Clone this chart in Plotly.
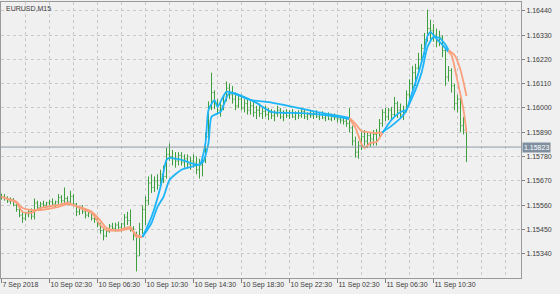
import plotly.graph_objects as go

# ---------------- data ----------------
symbol_title = "EURUSD,M15"

tick_labels = ["7 Sep 2018", "10 Sep 02:30", "10 Sep 06:30", "10 Sep 10:30", "10 Sep 14:30",
               "10 Sep 18:30", "10 Sep 22:30", "11 Sep 02:30", "11 Sep 06:30", "11 Sep 10:30"]
tick_bars = [0, 16, 32, 48, 64, 80, 96, 112, 128, 144]

price_ticks = [1.15340, 1.15450, 1.15560, 1.15670, 1.15780, 1.15890,
               1.16000, 1.16110, 1.16220, 1.16330, 1.16440]

opens = [1.15600, 1.15595, 1.15590, 1.15578, 1.15585, 1.15560, 1.15540, 1.15515, 1.15500, 1.15520,
         1.15530, 1.15510, 1.15570, 1.15550, 1.15565, 1.15560, 1.15570, 1.15575, 1.15565, 1.15575,
         1.15595, 1.15580, 1.15590, 1.15575, 1.15600, 1.15565, 1.15530, 1.15545, 1.15530, 1.15515,
         1.15525, 1.15500, 1.15495, 1.15470, 1.15445, 1.15420, 1.15440, 1.15465, 1.15455, 1.15470,
         1.15460, 1.15475, 1.15505, 1.15490, 1.15455, 1.15420, 1.15330, 1.15450, 1.15540, 1.15580,
         1.15660, 1.15640, 1.15670, 1.15650, 1.15700, 1.15690, 1.15790, 1.15780, 1.15770, 1.15760,
         1.15785, 1.15755, 1.15770, 1.15745, 1.15760, 1.15750, 1.15720, 1.15740, 1.15760, 1.15870,
         1.16000, 1.16070, 1.16020, 1.15990, 1.16010, 1.16050, 1.16090, 1.16060, 1.16040, 1.16010,
         1.16040, 1.16000, 1.16020, 1.15990, 1.16010, 1.15980, 1.15990, 1.15975, 1.15985, 1.15970,
         1.15980, 1.15965, 1.15975, 1.15990, 1.15960, 1.15975, 1.15965, 1.15980, 1.15960, 1.15975,
         1.15965, 1.15985, 1.15960, 1.15970, 1.15965, 1.15975, 1.15960, 1.15970, 1.15955, 1.15965,
         1.15950, 1.15960, 1.15955, 1.15950, 1.15945, 1.15940, 1.15930, 1.15910, 1.15850, 1.15800,
         1.15830, 1.15870, 1.15850, 1.15875, 1.15860, 1.15880, 1.15890, 1.15930, 1.15980, 1.15960,
         1.15990, 1.15970, 1.16020, 1.15990, 1.15970, 1.15990, 1.16060, 1.16110, 1.16160, 1.16180,
         1.16220, 1.16270, 1.16310, 1.16360, 1.16350, 1.16330, 1.16300, 1.16320, 1.16260, 1.16140,
         1.16170, 1.16100, 1.16020, 1.16040, 1.15920, 1.15900]
highs = [1.15612, 1.15610, 1.15600, 1.15595, 1.15592, 1.15570, 1.15550, 1.15535, 1.15530, 1.15540,
         1.15545, 1.15590, 1.15580, 1.15575, 1.15580, 1.15575, 1.15585, 1.15590, 1.15580, 1.15610,
         1.15605, 1.15640, 1.15600, 1.15625, 1.15610, 1.15570, 1.15555, 1.15560, 1.15545, 1.15540,
         1.15535, 1.15520, 1.15510, 1.15480, 1.15460, 1.15450, 1.15475, 1.15480, 1.15480, 1.15485,
         1.15480, 1.15520, 1.15530, 1.15540, 1.15465, 1.15440, 1.15480, 1.15560, 1.15600, 1.15690,
         1.15700, 1.15690, 1.15700, 1.15720, 1.15740, 1.15820, 1.15840, 1.15810, 1.15800, 1.15800,
         1.15800, 1.15790, 1.15790, 1.15780, 1.15790, 1.15780, 1.15770, 1.15780, 1.15890, 1.16030,
         1.16160, 1.16080, 1.16040, 1.16030, 1.16060, 1.16120, 1.16110, 1.16100, 1.16070, 1.16060,
         1.16060, 1.16040, 1.16040, 1.16030, 1.16030, 1.16010, 1.16020, 1.16000, 1.16010, 1.16000,
         1.15995, 1.15990, 1.16010, 1.16000, 1.15990, 1.15995, 1.15990, 1.15995, 1.15985, 1.15990,
         1.16000, 1.15995, 1.15980, 1.15990, 1.15985, 1.15990, 1.15980, 1.15985, 1.15975, 1.15980,
         1.15975, 1.15975, 1.15970, 1.15965, 1.15960, 1.15955, 1.16000, 1.15920, 1.15870, 1.15850,
         1.15890, 1.15900, 1.15890, 1.15890, 1.15900, 1.15905, 1.15950, 1.15995, 1.16000, 1.16000,
         1.16005, 1.16050, 1.16030, 1.16020, 1.16010, 1.16080, 1.16130, 1.16190, 1.16200, 1.16250,
         1.16290, 1.16340, 1.16445, 1.16400, 1.16380, 1.16360, 1.16350, 1.16330, 1.16270, 1.16190,
         1.16180, 1.16110, 1.16060, 1.16050, 1.15960, 1.15905]
lows = [1.15585, 1.15580, 1.15570, 1.15565, 1.15555, 1.15530, 1.15505, 1.15480, 1.15490, 1.15505,
        1.15495, 1.15495, 1.15535, 1.15540, 1.15550, 1.15545, 1.15555, 1.15560, 1.15550, 1.15560,
        1.15570, 1.15565, 1.15565, 1.15570, 1.15555, 1.15510, 1.15515, 1.15520, 1.15500, 1.15505,
        1.15490, 1.15480, 1.15460, 1.15430, 1.15400, 1.15415, 1.15435, 1.15445, 1.15440, 1.15450,
        1.15440, 1.15455, 1.15470, 1.15440, 1.15400, 1.15260, 1.15330, 1.15430, 1.15470, 1.15560,
        1.15615, 1.15620, 1.15630, 1.15640, 1.15660, 1.15680, 1.15760, 1.15740, 1.15730, 1.15740,
        1.15740, 1.15730, 1.15725, 1.15720, 1.15730, 1.15700, 1.15680, 1.15690, 1.15750, 1.15850,
        1.15990, 1.15995, 1.15970, 1.15960, 1.15990, 1.16030, 1.16040, 1.16020, 1.15990, 1.16000,
        1.15990, 1.15980, 1.15970, 1.15970, 1.15960, 1.15950, 1.15960, 1.15950, 1.15960, 1.15945,
        1.15950, 1.15940, 1.15960, 1.15950, 1.15940, 1.15955, 1.15950, 1.15955, 1.15945, 1.15950,
        1.15955, 1.15950, 1.15945, 1.15955, 1.15950, 1.15955, 1.15945, 1.15950, 1.15940, 1.15945,
        1.15940, 1.15945, 1.15935, 1.15930, 1.15925, 1.15915, 1.15890, 1.15830, 1.15775, 1.15770,
        1.15810, 1.15830, 1.15820, 1.15825, 1.15830, 1.15830, 1.15860, 1.15915, 1.15940, 1.15945,
        1.15950, 1.15960, 1.15955, 1.15950, 1.15945, 1.15980, 1.16040, 1.16080, 1.16100, 1.16160,
        1.16200, 1.16240, 1.16300, 1.16310, 1.16300, 1.16275, 1.16280, 1.16230, 1.16100, 1.16120,
        1.16070, 1.15990, 1.15980, 1.15890, 1.15880, 1.15755]
closes = [1.15595, 1.15590, 1.15578, 1.15585, 1.15560, 1.15540, 1.15515, 1.15500, 1.15520, 1.15530,
          1.15510, 1.15570, 1.15550, 1.15565, 1.15560, 1.15570, 1.15575, 1.15565, 1.15575, 1.15595,
          1.15580, 1.15590, 1.15575, 1.15600, 1.15565, 1.15530, 1.15545, 1.15530, 1.15515, 1.15525,
          1.15500, 1.15495, 1.15470, 1.15445, 1.15420, 1.15440, 1.15465, 1.15455, 1.15470, 1.15460,
          1.15475, 1.15505, 1.15490, 1.15455, 1.15420, 1.15330, 1.15450, 1.15540, 1.15580, 1.15660,
          1.15640, 1.15670, 1.15650, 1.15700, 1.15690, 1.15790, 1.15780, 1.15770, 1.15760, 1.15785,
          1.15755, 1.15770, 1.15745, 1.15760, 1.15750, 1.15720, 1.15740, 1.15760, 1.15870, 1.16000,
          1.16070, 1.16020, 1.15990, 1.16010, 1.16050, 1.16090, 1.16060, 1.16040, 1.16010, 1.16040,
          1.16000, 1.16020, 1.15990, 1.16010, 1.15980, 1.15990, 1.15975, 1.15985, 1.15970, 1.15980,
          1.15965, 1.15975, 1.15990, 1.15960, 1.15975, 1.15965, 1.15980, 1.15960, 1.15975, 1.15965,
          1.15985, 1.15960, 1.15970, 1.15965, 1.15975, 1.15960, 1.15970, 1.15955, 1.15965, 1.15950,
          1.15960, 1.15955, 1.15950, 1.15945, 1.15940, 1.15930, 1.15910, 1.15850, 1.15800, 1.15830,
          1.15870, 1.15850, 1.15875, 1.15860, 1.15880, 1.15890, 1.15930, 1.15980, 1.15960, 1.15990,
          1.15970, 1.16020, 1.15990, 1.15970, 1.15990, 1.16060, 1.16110, 1.16160, 1.16180, 1.16220,
          1.16270, 1.16310, 1.16360, 1.16350, 1.16330, 1.16300, 1.16320, 1.16260, 1.16140, 1.16170,
          1.16100, 1.16020, 1.16040, 1.15920, 1.15900, 1.15823]

# indicator lines (bar index, value) read at key points
fast_bars = [0, 5, 7, 10, 13, 19, 22, 24, 26, 30, 33, 35, 39, 43, 44, 45, 47, 50, 53, 55, 56, 60,
             66, 68, 69, 71, 72, 75, 80, 85, 90, 100, 110, 116, 118, 120, 121, 123, 125, 127, 130,
             133, 135, 136, 139, 141, 142, 143, 145, 147, 149, 150, 152, 154, 155]
fast_vals = [1.15597, 1.15570, 1.15529, 1.15525, 1.15547, 1.15561, 1.15570, 1.15561, 1.15547,
             1.15525, 1.15470, 1.15447, 1.15447, 1.15461, 1.15438, 1.15416, 1.15416, 1.15506,
             1.15642, 1.15765, 1.15774, 1.15765, 1.15743, 1.15842, 1.15991, 1.16036, 1.16005,
             1.16073, 1.16055, 1.16023, 1.15982, 1.15977, 1.15964, 1.15950, 1.15910, 1.15837,
             1.15819, 1.15842, 1.15846, 1.15887, 1.15946, 1.15982, 1.15991, 1.16032, 1.16159,
             1.16258, 1.16326, 1.16344, 1.16313, 1.16286, 1.16254, 1.16240, 1.16122, 1.15991,
             1.15890]
slow_bars = [0, 5, 7, 10, 13, 19, 22, 26, 30, 33, 35, 39, 43, 45, 47, 50, 52, 54, 56, 60, 67, 69,
             70, 73, 76, 83, 89, 94, 105, 116, 118, 120, 122, 124, 126, 127, 130, 134, 137, 140,
             142, 144, 146, 148, 149, 151, 153, 155]
slow_vals = [1.15597, 1.15575, 1.15547, 1.15538, 1.15538, 1.15552, 1.15565, 1.15552, 1.15530,
             1.15490, 1.15456, 1.15443, 1.15452, 1.15425, 1.15416, 1.15479, 1.15552, 1.15597,
             1.15674, 1.15720, 1.15752, 1.15842, 1.15960, 1.15982, 1.16068, 1.16036, 1.16027,
             1.16014, 1.15982, 1.15955, 1.15928, 1.15896, 1.15891, 1.15887, 1.15887, 1.15891,
             1.15919, 1.15968, 1.16050, 1.16159, 1.16276, 1.16322, 1.16317, 1.16286, 1.16263,
             1.16240, 1.16172, 1.16054]

# trend segments: (first bar, last bar, direction)
trend_start = [0, 47, 116, 127, 149]
trend_end = [47, 116, 127, 149, 155]
trend_dir = ["down", "up", "down", "up", "down"]

# ---------------- style ----------------
BG = "#F0F0F0"
GRID = "#C9C9C9"
FRAME = "#9A9A9A"
TXT = "#3C3C3C"
BAR_GREEN = "#3E9F3E"
UP_COL = "#1CB5FA"
DOWN_COL = "#FBA07C"
FONT = "Liberation Sans"

fig = go.Figure()

bar_idx = list(range(len(opens)))
fig.add_trace(go.Ohlc(
    x=bar_idx, open=opens, high=highs, low=lows, close=closes,
    increasing=dict(line=dict(color=BAR_GREEN, width=1)),
    decreasing=dict(line=dict(color=BAR_GREEN, width=1)),
    tickwidth=0.34, showlegend=False, hoverinfo="skip"))

for a, b, d in zip(trend_start, trend_end, trend_dir):
    col = UP_COL if d == "up" else DOWN_COL
    for ks, vs in ((slow_bars, slow_vals), (fast_bars, fast_vals)):
        xs = [k for k in ks if a <= k <= b]
        ys = [v for k, v in zip(ks, vs) if a <= k <= b]
        fig.add_trace(go.Scatter(x=xs, y=ys, mode="lines",
                                 line=dict(color=col, width=1.8, shape="spline", smoothing=0.6),
                                 showlegend=False, hoverinfo="skip"))

last_close = closes[-1]
fig.add_shape(type="line", xref="paper", x0=0, x1=1, yref="y", y0=last_close, y1=last_close,
              line=dict(color="#8E9AA6", width=1))

fig.add_annotation(xref="paper", x=1, xanchor="left", xshift=1, yref="y", y=last_close,
                   yanchor="middle", text=f"{last_close:.5f}", showarrow=False,
                   bgcolor="#7F8FA0", borderpad=1,
                   font=dict(family=FONT, size=7, color="white"))

fig.add_annotation(xref="paper", x=0, xanchor="left", xshift=3, yref="paper", y=1,
                   yanchor="top", yshift=-1, text=symbol_title, showarrow=False,
                   font=dict(family=FONT, size=7, color=TXT))

grid_bars = list(range(0, 176, 8))

fig.update_layout(
    width=560, height=294,
    margin=dict(l=1, r=39, t=2, b=16),
    paper_bgcolor=BG, plot_bgcolor=BG,
    font=dict(family=FONT, size=7, color=TXT),
    xaxis=dict(
        range=[-1 / 6, 173 + 1 / 6],
        tickmode="array", tickvals=tick_bars, ticktext=tick_labels,
        tickangle=0,
        ticks="outside", ticklen=4, tickcolor="#808080",
        ticklabelposition="outside right",
        tickfont=dict(family=FONT, size=7, color=TXT),
        showgrid=True, gridcolor=GRID, griddash="3px,3px", gridwidth=1,
        minor=dict(tickmode="array", tickvals=grid_bars, showgrid=True, gridcolor=GRID,
                   griddash="3px,3px", gridwidth=1, ticks=""),
        showline=True, linecolor=FRAME, linewidth=1, mirror=True,
        zeroline=False, rangeslider=dict(visible=False), fixedrange=True),
    yaxis=dict(
        side="right", range=[1.15230, 1.16480],
        tickmode="array", tickvals=price_ticks,
        ticktext=[f"{v:.5f}" for v in price_ticks],
        ticks="outside", ticklen=3, tickcolor="#808080",
        tickfont=dict(family=FONT, size=7, color=TXT),
        showgrid=True, gridcolor=GRID, griddash="3px,3px", gridwidth=1,
        showline=True, linecolor=FRAME, linewidth=1, mirror=True,
        zeroline=False, fixedrange=True),
)

fig.write_html("out.html")
